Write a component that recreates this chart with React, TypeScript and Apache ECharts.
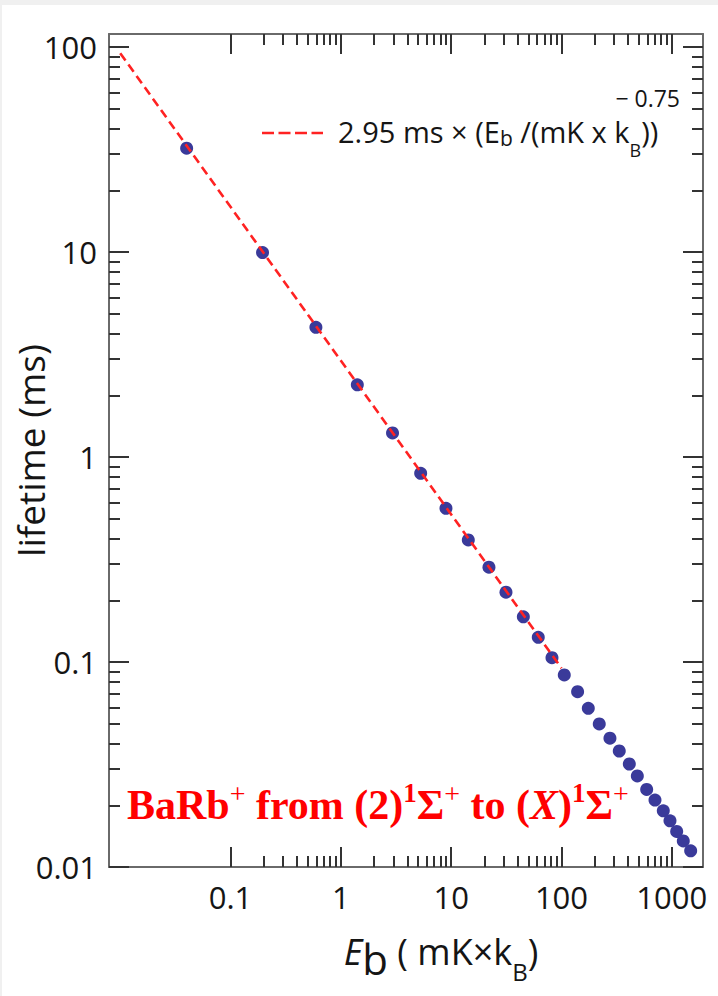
import React, { useEffect, useRef } from "react";
import * as echarts from "echarts";

// Measured data (binding energy in mK×kB, lifetime in ms)
const energies = [0.040, 0.195, 0.594, 1.41, 2.94, 5.29, 8.97, 14.3, 22.0, 31.4, 45.1, 61.6, 82.0, 106, 140, 175, 220, 275, 334, 412, 487, 592, 704, 837, 963, 1107, 1271, 1483];
const lifetimes = [32.1, 9.93, 4.29, 2.25, 1.31, 0.832, 0.562, 0.394, 0.290, 0.219, 0.166, 0.132, 0.105, 0.0865, 0.0716, 0.0594, 0.0499, 0.0425, 0.0368, 0.0318, 0.0278, 0.0239, 0.0212, 0.0188, 0.0168, 0.0149, 0.0134, 0.0120];

// Fit line end points (2.95 ms × (Eb)^-0.75)
const fitEnergies = [0.01, 100];
const fitLifetimes = [93.3, 0.0933];

// Axes
const xMajorTicks = [0.1, 1, 10, 100, 1000];
const xTickLabels = ["0.1", "1", "10", "100", "1000"];
const xMinorDecades = [0.1, 1, 10, 100];
const yMajorTicks = [0.01, 0.1, 1, 10, 100];
const yTickLabels = ["0.01", "0.1", "1", "10", "100"];
const yMinorDecades = [0.01, 0.1, 1, 10];
const minorSteps = [2, 3, 4, 5, 6, 7, 8, 9];
const xRange = [0.00791, 1918];
const yRange = [0.01, 115.7];

const lg = Math.log10;

function minorValues(decades: number[]) {
  const out: number[] = [];
  decades.forEach((d) => minorSteps.forEach((k) => out.push(lg(k * d))));
  return out;
}

function makeFormatter(majors: number[], labels: string[]) {
  return (v: number) => {
    const i = majors.findIndex((t) => Math.abs(lg(t) - v) < 1e-6);
    return i >= 0 ? labels[i] : "";
  };
}

const FONT = "Open Sans";
const FRAME = "#6a6a6a";
const TICK = "#333333";
const INK = "#151515";

export default function App() {
  const ref = useRef<HTMLDivElement>(null);

  useEffect(() => {
    if (!ref.current) return;
    const chart = echarts.init(ref.current, undefined, { renderer: "svg" });

    const xMajLog = xMajorTicks.map(lg);
    const yMajLog = yMajorTicks.map(lg);
    const xMinLog = minorValues(xMinorDecades);
    const yMinLog = minorValues(yMinorDecades);
    const xMin = lg(xRange[0]);
    const xMax = lg(xRange[1]);
    const yMin = lg(yRange[0]);
    const yMax = lg(yRange[1]);

    const baseAxis = (min: number, max: number) => ({
      type: "value",
      min,
      max,
      splitLine: { show: false },
      axisPointer: { show: false },
    });

    const majorAxis = (position: string, min: number, max: number, ticks: number[], label: any, extra: any = {}) => ({
      ...baseAxis(min, max),
      position,
      axisLine: { show: true, onZero: false, lineStyle: { color: FRAME, width: 2 } },
      axisTick: { show: true, inside: true, length: 20, customValues: ticks, lineStyle: { color: TICK, width: 2 } },
      axisLabel: label ? { show: true, customValues: ticks, fontFamily: FONT, fontSize: 31, color: INK, ...label } : { show: false },
      ...extra,
    });

    const minorAxis = (position: string, min: number, max: number, ticks: number[]) => ({
      ...baseAxis(min, max),
      position,
      axisLine: { show: false, onZero: false },
      axisTick: { show: true, inside: true, length: 11, customValues: ticks, lineStyle: { color: TICK, width: 2 } },
      axisLabel: { show: false },
    });

    const xFmt = makeFormatter(xMajorTicks, xTickLabels);
    const yFmt = makeFormatter(yMajorTicks, yTickLabels);

    const option: any = {
      animation: false,
      backgroundColor: "#ffffff",
      grid: { left: 107, right: 15, top: 29, bottom: 129, containLabel: false, outerBoundsMode: "none" },
      xAxis: [
        majorAxis("bottom", xMin, xMax, xMajLog, { formatter: xFmt, margin: 14 }, {
          name: "{e|E}{b|b}{n| ( mK×k}{s|B}{n|)}",
          nameLocation: "middle",
          nameGap: 52,
          nameTextStyle: {
            fontFamily: FONT,
            color: INK,
            padding: [0, 0, 0, 70],
            rich: {
              e: { fontFamily: FONT, fontSize: 36, fontStyle: "italic", color: INK },
              b: { fontFamily: FONT, fontSize: 42, color: INK, padding: [14, 0, 0, 0] },
              n: { fontFamily: FONT, fontSize: 36, color: INK },
              s: { fontFamily: FONT, fontSize: 24, color: INK, padding: [40, 0, 0, 0] },
            },
          },
        }),
        minorAxis("bottom", xMin, xMax, xMinLog),
        majorAxis("top", xMin, xMax, xMajLog, null),
        minorAxis("top", xMin, xMax, xMinLog),
      ],
      yAxis: [
        majorAxis("left", yMin, yMax, yMajLog, { formatter: yFmt, margin: 12, padding: [8, 0, 0, 0] }, {
          name: "lifetime (ms)",
          nameLocation: "middle",
          nameGap: 60,
          nameMoveOverlap: false,
          nameTextStyle: { fontFamily: FONT, fontSize: 37, color: INK },
        }),
        minorAxis("left", yMin, yMax, yMinLog),
        majorAxis("right", yMin, yMax, yMajLog, null),
        minorAxis("right", yMin, yMax, yMinLog),
      ],
      series: [
        {
          type: "scatter",
          name: "data",
          xAxisIndex: 0,
          yAxisIndex: 0,
          symbol: "circle",
          symbolSize: 13,
          itemStyle: { color: "#3a3a9a", opacity: 1 },
          z: 2,
          data: energies.map((e, i) => [lg(e), lg(lifetimes[i])]),
        },
        {
          type: "line",
          name: "fit",
          xAxisIndex: 0,
          yAxisIndex: 0,
          showSymbol: false,
          symbol: "none",
          lineStyle: { color: "#ff2222", width: 2.6, type: [9, 5] },
          z: 3,
          data: fitEnergies.map((e, i) => [lg(e), lg(fitLifetimes[i])]),
        },
      ],
      graphic: [
        {
          type: "line",
          shape: { x1: 260, y1: 128, x2: 321, y2: 128 },
          style: { stroke: "#ff2222", lineWidth: 2.6, lineDash: [12, 4.5] },
        },
        {
          type: "text",
          x: 336,
          y: 126,
          style: {
            text: "{n|2.95 ms × (E}{s|b}{n| /(mK x k}{t|B}{n|))}",
            verticalAlign: "middle",
            align: "left",
            rich: {
              n: { fontFamily: FONT, fontSize: 29, fill: INK },
              s: { fontFamily: FONT, fontSize: 21, fill: INK, padding: [14, 0, 0, 0] },
              t: { fontFamily: FONT, fontSize: 18, fill: INK, padding: [38, 0, 0, 0] },
            },
          },
        },
        {
          type: "text",
          x: 678,
          y: 93,
          style: {
            text: "− 0.75",
            fontFamily: FONT,
            fontSize: 23,
            fill: INK,
            align: "right",
            verticalAlign: "middle",
          },
        },
        {
          type: "text",
          x: 125,
          y: 800,
          style: {
            text: "{m|BaRb}{p|+}{m| from (2)}{q|1}{m|Σ}{p|+}{m| to (}{i|X}{m|)}{q|1}{m|Σ}{p|+}",
            verticalAlign: "middle",
            align: "left",
            rich: {
              m: { fontFamily: "Liberation Serif", fontWeight: "bold", fontSize: 42, fill: "#ff0000" },
              i: { fontFamily: "Liberation Serif", fontWeight: "bold", fontStyle: "italic", fontSize: 42, fill: "#ff0000" },
              p: { fontFamily: "Liberation Serif", fontWeight: "normal", fontSize: 28, fill: "#ff0000", padding: [0, 0, 24, 0] },
              q: { fontFamily: "Liberation Serif", fontWeight: "bold", fontSize: 27, fill: "#ff0000", padding: [0, 0, 24, 0] },
            },
          },
        },
      ],
    };

    chart.setOption(option);
    return () => chart.dispose();
  }, []);

  return (
    <div style={{ position: "fixed", left: 0, top: 0, width: 718, height: 996, background: "#f0f0f0" }}>
      <div ref={ref} style={{ position: "absolute", left: 2, top: 5, width: 716, height: 991, background: "#ffffff" }} />
    </div>
  );
}
